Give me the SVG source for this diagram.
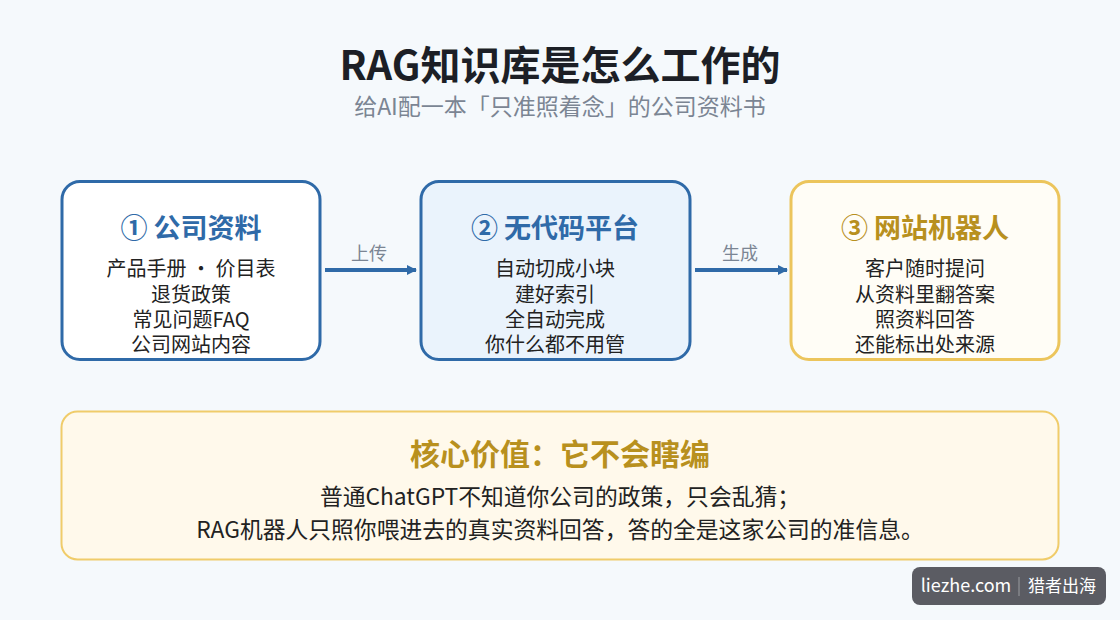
<svg xmlns="http://www.w3.org/2000/svg" width="1120" height="620" viewBox="0 0 1120 620">
<defs>
<style>
text{font-family:"Noto Sans CJK SC","Noto Sans",sans-serif;text-anchor:middle}
.title{font-size:40px;font-weight:700;fill:#1c1f26}
.sub{font-size:23px;fill:#7b8593}
.h{font-size:27px;font-weight:700}
.blue{fill:#2f6aa8}
.gold{fill:#b8901e}
.body{font-size:20px;fill:#222}
.lbl{font-size:18px;fill:#7b8593}
.bbody{font-size:22.8px;fill:#222}
</style>
<marker id="ah" markerWidth="10" markerHeight="10" refX="9" refY="5" orient="auto" markerUnits="userSpaceOnUse">
<path d="M0,0 L10,5 L0,10 Z" fill="#2f6aa8"/>
</marker>
</defs>
<rect width="1120" height="620" fill="#f5f9fc"/>
<text class="title" x="560" y="80">RAG知识库是怎么工作的</text>
<text class="sub" x="560" y="115">给AI配一本「只准照着念」的公司资料书</text>

<g id="node1">
<rect x="62" y="181.5" width="258" height="178" rx="18" fill="#ffffff" stroke="#2f6aa8" stroke-width="3"/>
<text class="h blue" x="191" y="238">① 公司资料</text>
<text class="body" x="191" y="276">产品手册 · 价目表</text>
<text class="body" x="191" y="302">退货政策</text>
<text class="body" x="191" y="327">常见问题FAQ</text>
<text class="body" x="191" y="352">公司网站内容</text>
</g>
<g id="node2">
<rect x="421" y="181.5" width="269" height="178" rx="18" fill="#eaf3fc" stroke="#2f6aa8" stroke-width="3"/>
<text class="h blue" x="555" y="238">② 无代码平台</text>
<text class="body" x="555" y="276">自动切成小块</text>
<text class="body" x="555" y="302">建好索引</text>
<text class="body" x="555" y="327">全自动完成</text>
<text class="body" x="555" y="352">你什么都不用管</text>
</g>
<g id="node3">
<rect x="791" y="181.5" width="268" height="178" rx="18" fill="#fffdf6" stroke="#ecc55c" stroke-width="3"/>
<text class="h gold" x="925" y="238">③ 网站机器人</text>
<text class="body" x="925" y="276">客户随时提问</text>
<text class="body" x="925" y="302">从资料里翻答案</text>
<text class="body" x="925" y="327">照资料回答</text>
<text class="body" x="925" y="352">还能标出处来源</text>
</g>

<g id="connectors">
<line x1="325" y1="270" x2="416" y2="270" stroke="#2f6aa8" stroke-width="4" marker-end="url(#ah)"/>
<text class="lbl" x="369" y="260">上传</text>
<line x1="695" y1="270" x2="787" y2="270" stroke="#2f6aa8" stroke-width="4" marker-end="url(#ah)"/>
<text class="lbl" x="740" y="260">生成</text>
</g>

<g id="core">
<rect x="61.5" y="411.5" width="997" height="148" rx="16" fill="#fff9eb" stroke="#f0cc6a" stroke-width="2"/>
<text class="gold" x="560" y="465" style="font-size:30px;font-weight:700">核心价值：它不会瞎编</text>
<text class="bbody" x="560" y="505">普通ChatGPT不知道你公司的政策，只会乱猜；</text>
<text class="bbody" x="560" y="538">RAG机器人只照你喂进去的真实资料回答，答的全是这家公司的准信息。</text>
</g>

<g id="watermark">
<rect x="912" y="567" width="194" height="38" rx="8" fill="#5b5c63"/>
<text x="966" y="592" style="font-size:18px;fill:#ffffff">liezhe.com</text>
<line x1="1019" y1="577" x2="1019" y2="596" stroke="#9a9ba0" stroke-width="1"/>
<text x="1062" y="592" style="font-size:17px;fill:#ffffff">猎者出海</text>
</g>
</svg>
